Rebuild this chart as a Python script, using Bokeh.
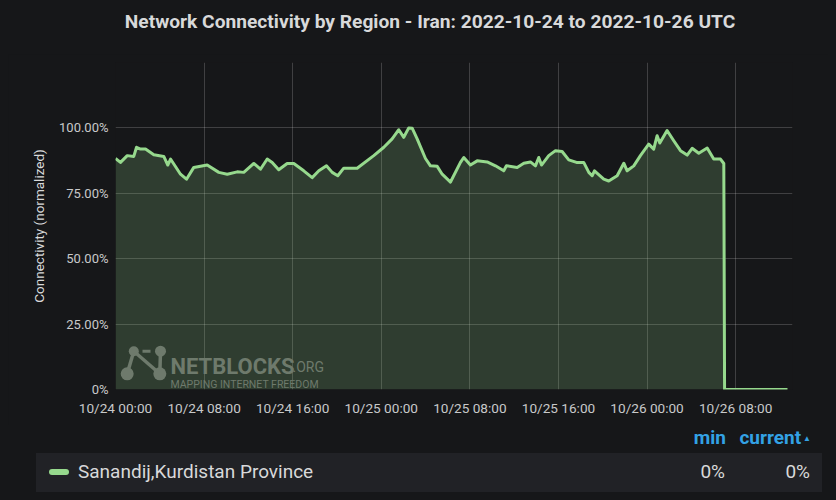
import pandas as pd
from bokeh.plotting import figure
from bokeh.models import (Range1d, FixedTicker, DatetimeTickFormatter, Label,
                          ColumnDataSource, Div)
from bokeh.layouts import column
from bokeh.embed import file_html
from bokeh.resources import INLINE

# ---------------- data ----------------
title_text = "Network Connectivity by Region - Iran: 2022-10-24 to 2022-10-26 UTC"
y_label = "Connectivity (normalized)"
series_name = "Sanandij,Kurdistan Province"
start_time = "2022-10-24 00:00"
end_time = "2022-10-26 13:08"

hours = [0.00, 0.45, 1.06, 1.65, 1.90, 2.26, 2.71, 3.46, 4.36, 4.72, 4.97, 5.87,
         6.41, 7.07, 8.28, 9.33, 10.09, 10.99, 11.58, 12.49, 13.09, 13.70, 14.15,
         14.74, 15.50, 16.10, 17.00, 17.76, 18.36, 19.05, 19.57, 20.07, 20.61,
         21.82, 23.32, 24.23, 24.98, 25.58, 26.03, 26.48, 26.79, 27.24, 27.99,
         28.44, 29.05, 29.50, 30.25, 31.15, 31.45, 32.05, 32.66, 33.56, 34.31,
         35.06, 35.30, 36.27, 36.87, 37.47, 37.92, 38.22, 38.47, 39.12, 39.73,
         40.33, 40.93, 41.63, 42.28, 42.74, 43.04, 43.25, 44.09, 44.54, 45.30,
         45.90, 46.20, 46.80, 47.40, 48.15, 48.60, 48.91, 49.15, 49.81, 50.41,
         51.02, 51.62, 52.07, 52.67, 53.43, 54.02, 54.63, 54.93,
         55.00, 56.00, 57.00, 58.00, 59.00, 60.00, 60.68]
connectivity = [88.3, 86.8, 89.4, 89.1, 92.6, 91.9, 91.9, 89.7, 89.1, 85.8, 88.1, 82.3,
                80.4, 84.9, 85.8, 83.0, 82.3, 83.2, 83.0, 86.4, 84.2, 88.1, 86.8,
                84.0, 86.4, 86.4, 83.6, 81.0, 83.6, 85.5, 83.0, 81.7, 84.6,
                84.6, 89.4, 92.6, 95.8, 99.3, 96.4, 100.0, 99.9, 95.8, 88.3,
                85.5, 85.3, 82.3, 79.3, 86.8, 88.7, 85.8, 87.4, 87.0, 85.5,
                83.6, 85.5, 84.9, 86.5, 87.0, 85.5, 88.7, 85.8, 89.4, 91.3,
                91.0, 87.8, 86.8, 86.8, 83.0, 81.7, 83.6, 80.4, 79.7, 81.7,
                86.5, 83.6, 85.5, 89.4, 93.8, 91.9, 97.0, 94.2, 99.0, 95.1,
                91.3, 89.6, 92.2, 90.3, 92.3, 88.1, 88.1, 86.4,
                0.0, 0.0, 0.0, 0.0, 0.0, 0.0, 0.0]

x_tick_times = ["2022-10-24 00:00", "2022-10-24 08:00", "2022-10-24 16:00",
                "2022-10-25 00:00", "2022-10-25 08:00", "2022-10-25 16:00",
                "2022-10-26 00:00", "2022-10-26 08:00"]
y_ticks = [0, 25, 50, 75, 100, 125]
y_tick_labels = ["0%", "25.00%", "50.00%", "75.00%", "100.00%", ""]

legend_headers = ["min", "current"]

# ---------------- styles ----------------
BG = "#161719"
ROW_BG = "#212226"
TEXT = "#d8d9da"
TICK = "#c8c9ca"
GREEN = "#96d98d"
BLUE = "#33a2e5"
WM = "#6e7a6c"
FONT = "Roboto"

W = 820
H_TITLE = 46
H_PLOT = 371
H_LEG = 67
FL, FR, FT, FB = 107, 36, 8, 36   # frame borders in px

# ---------------- title ----------------
title_div = Div(
    text=(f'<div style="box-sizing:border-box;width:{W}px;padding-left:24px;padding-top:4px;'
          f'text-align:center;font-family:{FONT};font-weight:bold;font-size:19.2px;'
          f'line-height:20px;color:{TEXT};white-space:nowrap;">{title_text}</div>'),
    width=W, height=H_TITLE, styles={"margin": "0", "padding": "0"})

# ---------------- chart ----------------
times = pd.Timestamp(start_time) + pd.to_timedelta(hours, unit="h")
src = ColumnDataSource(dict(t=times, v=connectivity))

x0 = pd.Timestamp(start_time)
x1 = pd.Timestamp(end_time)

p = figure(width=W, height=H_PLOT, x_axis_type="datetime",
           x_range=Range1d(x0, x1), y_range=Range1d(0, 125),
           output_backend="svg", toolbar_location=None,
           min_border_left=FL, min_border_right=FR,
           min_border_top=FT, min_border_bottom=FB,
           background_fill_color=BG, border_fill_color=BG)
p.outline_line_color = None

p.varea(x="t", y1=0, y2="v", source=src, fill_color=GREEN, fill_alpha=0.2)
p.line(x="t", y="v", source=src, line_color=GREEN, line_width=3,
       line_join="round")

xa = p.xaxis[0]
xa.ticker = FixedTicker(ticks=[pd.Timestamp(t).value / 1e6 for t in x_tick_times])
fmt = "%m/%d %H:%M"
xa.formatter = DatetimeTickFormatter(minutes=fmt, hourmin=fmt, hours=fmt, days=fmt,
                                     months=fmt, years=fmt)
ya = p.yaxis[0]
ya.ticker = FixedTicker(ticks=y_ticks)
ya.major_label_overrides = {t: l for t, l in zip(y_ticks, y_tick_labels)}
for ax in (xa, ya):
    ax.axis_line_color = None
    ax.major_tick_line_color = None
    ax.minor_tick_line_color = None
    ax.major_tick_out = 0
    ax.major_tick_in = 0
    ax.major_label_text_color = TICK
    ax.major_label_text_font = FONT
xa.major_label_text_font_size = "13.6px"
ya.major_label_text_font_size = "13px"
xa.major_label_standoff = 10
ya.major_label_standoff = 7
ya.axis_label = y_label
ya.axis_label_text_font = FONT
ya.axis_label_text_font_style = "normal"
ya.axis_label_text_font_size = "13.5px"
ya.axis_label_text_color = TEXT
ya.axis_label_standoff = 9

for g in (p.xgrid[0], p.ygrid[0]):
    g.grid_line_color = "#ffffff"
    g.grid_line_alpha = 0.18
    g.grid_line_width = 1

frame_w = W - FL - FR
frame_h = H_PLOT - FT - FB

# watermark (inside the frame)
def fx(px):
    return x0 + (x1 - x0) * (px / frame_w)

def fy(py):
    return 125 * py / frame_h

nodes_px = [(11.7, 15.7), (18.3, 38.3), (45.0, 38.3), (44.3, 15.7)]
node_sizes = [13, 10, 11, 13]
edges = [(0, 1), (1, 3), (2, 3)]
p.segment(x0=[fx(nodes_px[a][0]) for a, b in edges], y0=[fy(nodes_px[a][1]) for a, b in edges],
          x1=[fx(nodes_px[b][0]) for a, b in edges], y1=[fy(nodes_px[b][1]) for a, b in edges],
          line_color=WM, line_width=3.5)
p.segment(x0=[fx(27)], y0=[fy(38.3)], x1=[fx(35)], y1=[fy(38.3)], line_color=WM, line_width=3)
p.scatter(x=[fx(a) for a, b in nodes_px], y=[fy(b) for a, b in nodes_px],
          size=node_sizes, fill_color=WM, line_color=None)
p.add_layout(Label(x=55, y=23, x_units="screen", y_units="screen", text="NETBLOCKS",
                   text_font=FONT, text_font_style="bold", text_font_size="22px",
                   text_color=WM, text_baseline="alphabetic"))
p.add_layout(Label(x=177, y=23, x_units="screen", y_units="screen", text=".ORG",
                   text_font=FONT, text_font_size="14px",
                   text_color=WM, text_baseline="alphabetic"))
p.add_layout(Label(x=55, y=5, x_units="screen", y_units="screen",
                   text="MAPPING INTERNET FREEDOM",
                   text_font=FONT, text_font_size="10.5px",
                   text_color=WM, text_baseline="alphabetic"))

# ---------------- legend table ----------------
min_val = min(connectivity)
cur_val = connectivity[-1]

def pct(v):
    return "0%" if v == 0 else f"{v:.2f}%"

hdr = f"position:absolute;top:3px;color:{BLUE};font-weight:bold;font-size:19px;line-height:20px;"
cell = f"position:absolute;top:9px;color:{TEXT};font-size:19px;line-height:20px;white-space:nowrap;"
leg_html = f'''
<div style="position:relative;width:{W}px;height:{H_LEG}px;font-family:{FONT};">
  <div style="{hdr}right:102px;">{legend_headers[0]}</div>
  <div style="{hdr}right:17px;">{legend_headers[1]}<span
       style="font-size:8px;vertical-align:3px;margin-left:2px;">&#9650;</span></div>
  <div style="position:absolute;top:28px;left:28px;width:786px;height:39px;background:{ROW_BG};">
    <div style="position:absolute;left:13px;top:16px;width:20px;height:6px;
                border-radius:3px;background:{GREEN};"></div>
    <div style="{cell}left:42px;">{series_name}</div>
    <div style="{cell}right:97px;">{pct(min_val)}</div>
    <div style="{cell}right:12px;">{pct(cur_val)}</div>
  </div>
</div>'''
leg_div = Div(text=leg_html, width=W, height=H_LEG, styles={"margin": "0", "padding": "0"})

layout = column(title_div, p, leg_div, spacing=0)
html = file_html(layout, INLINE)
css = (f"<style>html{{background:{BG} !important;}}"
       f"body{{margin:8px !important;padding:0 !important;height:auto !important;"
       f"background:{BG} !important;}}</style>")
html = html.replace("</head>", css + "</head>", 1)
open("out.html", "w").write(html)
